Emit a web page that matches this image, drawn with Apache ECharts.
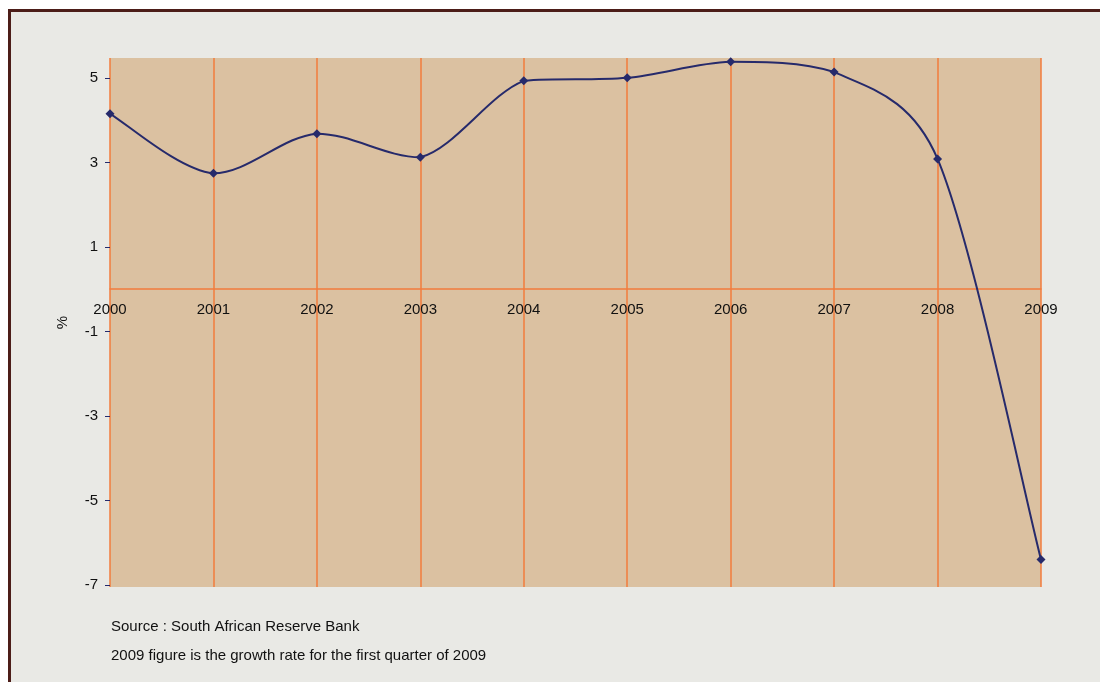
<!DOCTYPE html>
<html>
<head>
<meta charset="utf-8">
<script src="https://cdn.jsdelivr.net/npm/echarts@6/dist/echarts.min.js"></script>
<style>
  html, body { margin: 0; padding: 0; background: #ffffff; }
  #frame {
    position: absolute; left: 8px; top: 9px; width: 1092px; height: 673px;
    box-sizing: border-box; background: #e9e9e5;
    border-top: 3px solid #4c1d18; border-left: 3px solid #4c1d18;
  }
  #chart { position: absolute; left: 0; top: 0; width: 1100px; height: 682px; }
</style>
</head>
<body>
<div id="frame"></div>
<div id="chart"></div>
<script>
// Real GDP growth, South Africa (%)
const years = ['2000', '2001', '2002', '2003', '2004', '2005', '2006', '2007', '2008', '2009'];
const growth = [4.15, 2.74, 3.68, 3.12, 4.93, 5.0, 5.38, 5.14, 3.08, -6.4];
const yTicks = [-7, -5, -3, -1, 1, 3, 5];
const notes = [
  'Source : South African Reserve Bank',
  '2009 figure is the growth rate for the first quarter of 2009'
];

const navy = '#262a6b';
const orange = '#f27b3c';
const font = '"Liberation Sans", Arial, sans-serif';

// Smoothed segment i -> i+1 as a cubic Bezier. Tangents follow the neighbours
// (1/6 of the chord P[i+1]-P[i-1]); each handle is capped at half the segment
// length and kept vertically between the segment's two end points.
function handle(from, dir, segLen, yA, yB) {
  let dx = dir[0] / 6, dy = dir[1] / 6;
  const len = Math.hypot(dx, dy);
  if (len > segLen / 2 && len > 0) {
    const k = (segLen / 2) / len;
    dx *= k; dy *= k;
  }
  let y = from[1] + dy;
  y = Math.max(Math.min(yA, yB), Math.min(Math.max(yA, yB), y));
  return [from[0] + dx, y];
}

function renderSegment(params, api) {
  const i = params.dataIndex;
  if (i >= growth.length - 1) return null;
  const pt = k => {
    const j = Math.max(0, Math.min(growth.length - 1, k));
    return api.coord([j, growth[j]]);
  };
  const p0 = pt(i - 1), p1 = pt(i), p2 = pt(i + 1), p3 = pt(i + 2);
  const seg = Math.hypot(p2[0] - p1[0], p2[1] - p1[1]);
  const c1 = handle(p1, [p2[0] - p0[0], p2[1] - p0[1]], seg, p1[1], p2[1]);
  const c2 = handle(p2, [p1[0] - p3[0], p1[1] - p3[1]], seg, p1[1], p2[1]);
  return {
    type: 'bezierCurve',
    shape: { x1: p1[0], y1: p1[1], cpx1: c1[0], cpy1: c1[1], cpx2: c2[0], cpy2: c2[1], x2: p2[0], y2: p2[1] },
    style: { stroke: navy, lineWidth: 2, fill: null },
    silent: true
  };
}

const chart = echarts.init(document.getElementById('chart'), null, { renderer: 'canvas' });
chart.setOption({
  backgroundColor: 'transparent',
  animation: false,
  textStyle: { fontFamily: font },
  grid: {
    left: 110, right: 59, top: 58, bottom: 95,
    show: true, backgroundColor: '#dbc1a1', borderWidth: 0
  },
  xAxis: {
    type: 'category',
    data: years,
    boundaryGap: false,
    axisLine: { show: true, onZero: true, lineStyle: { color: orange, width: 1.5 } },
    axisTick: { show: false },
    axisLabel: { show: false },
    splitLine: { show: true, interval: 0, lineStyle: { color: orange, width: 1.5 } }
  },
  yAxis: {
    type: 'value',
    min: -7.05,
    max: 5.47,
    name: '%',
    nameLocation: 'middle',
    nameRotate: 90,
    nameGap: 40,
    nameTextStyle: { color: '#111', fontSize: 15, fontFamily: font },
    axisLine: { show: false },
    axisTick: { show: true, length: 5, customValues: yTicks, lineStyle: { color: navy, width: 1 } },
    axisLabel: { customValues: yTicks, color: '#111', fontSize: 15, margin: 12, fontFamily: font },
    splitLine: { show: false }
  },
  series: [
    {
      // smoothed curve through the yearly values
      type: 'custom',
      renderItem: renderSegment,
      data: growth.map((v, i) => [i, v]),
      clip: false,
      z: 3
    },
    {
      // diamond markers on each year
      type: 'line',
      data: growth,
      symbol: 'diamond',
      symbolSize: 9,
      itemStyle: { color: navy },
      lineStyle: { width: 0, opacity: 0 },
      z: 4
    },
    {
      // year labels sitting just under the zero line
      type: 'scatter',
      data: years.map(y => [y, 0]),
      symbolSize: 0,
      silent: true,
      itemStyle: { opacity: 1 },
      label: {
        show: true,
        position: 'bottom',
        distance: 13,
        formatter: p => p.value[0],
        color: '#111',
        fontSize: 15,
        fontFamily: font
      },
      z: 2
    }
  ],
  graphic: notes.map((t, i) => ({
    type: 'text',
    left: 111,
    top: 619 + i * 29,
    style: { text: t, fill: '#111', font: '15px ' + font }
  }))
});
</script>
</body>
</html>
